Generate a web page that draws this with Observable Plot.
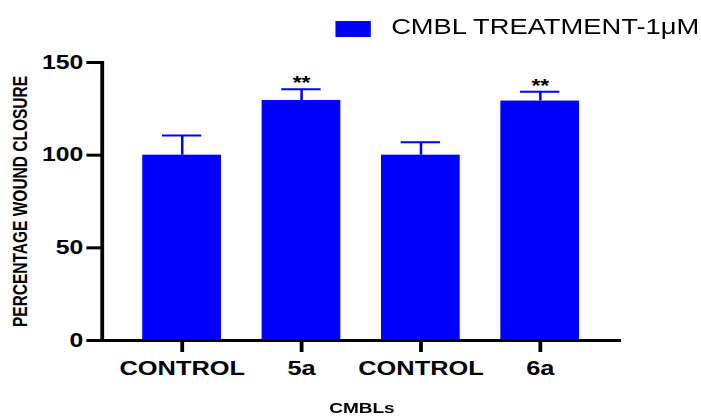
<!DOCTYPE html>
<html>
<head>
<meta charset="utf-8">
<script src="https://cdn.jsdelivr.net/npm/d3@7"></script>
<script src="https://cdn.jsdelivr.net/npm/@observablehq/plot@0.6"></script>
<style>
  html, body { margin: 0; padding: 0; background: #fff; }
  body { width: 701px; height: 418px; overflow: hidden; font-family: "Liberation Sans", Arial, sans-serif; }
  #wrap { width: 552px; transform-origin: 0 0; }
  #legend { position: relative; height: 45px; }
  #legend .sw { position: absolute; left: 264px; top: 21px; width: 28px; height: 16px; background: #0000ff; }
  #legend .lt { position: absolute; left: 308px; top: 17px; font-size: 21.5px; line-height: 21px; color: #000; white-space: nowrap; }
  #chart svg { display: block; overflow: visible; }
  #chart [aria-label="y-axis-line"], #chart [aria-label="y-axis-line"] * { clip-path: none !important; stroke-width: 3px; }
</style>
</head>
<body>
<div id="wrap">
  <div id="legend"><span class="sw"></span><span class="lt"></span></div>
  <div id="chart"></div>
</div>
<script>
// ---- data ----
const keys = ["c1", "5a", "c2", "6a"];
const labels = ["CONTROL", "5a", "CONTROL", "6a"];
const means = [100, 129.5, 100, 129.2];
const errHigh = [110.6, 135.5, 107.0, 134.2];
const stars = ["", "**", "", "**"];
const yTicks = [0, 50, 100, 150];
const seriesName = "CMBL TREATMENT-1μM";
const xTitle = "CMBLs";
const yTitle = "PERCENTAGE WOUND CLOSURE";

// horizontal stretch of the reference picture
const STRETCH = 701 / 552;
document.getElementById("wrap").style.transform = `scaleX(${STRETCH})`;
document.querySelector("#legend .lt").textContent = seriesName;

const data = keys.map((k, i) => ({key: k, label: labels[i], mean: means[i], hi: errHigh[i], star: stars[i]}));
const labelOf = k => labels[keys.indexOf(k)];
const blue = "#0000ff";

const chart = Plot.plot({
  width: 552,
  height: 373,
  marginTop: 17,
  marginBottom: 78,
  marginLeft: 80,
  marginRight: 63,
  style: {fontFamily: '"Liberation Sans", Arial, sans-serif', fontWeight: "bold", color: "#000", background: "#fff"},
  x: {domain: keys, paddingInner: 0.338, paddingOuter: 0.344, label: null},
  y: {domain: [0, 150], label: null},
  marks: [
    Plot.barY(data, {x: "key", y: "mean", fill: blue}),
    Plot.ruleX(data, {x: "key", y1: "mean", y2: "hi", stroke: blue, strokeWidth: 2}),
    Plot.tickY(data, {x: "key", y: "hi", stroke: blue, strokeWidth: 2, insetLeft: 15.5, insetRight: 15.5}),
    Plot.text(data, {x: "key", y: "hi", text: "star", dy: -6, lineAnchor: "middle", fontSize: 18, fill: "#000"}),
    Plot.axisX({tickSize: 12, tickPadding: 8, tickFormat: labelOf, fontSize: 20, strokeWidth: 3, label: null}),
    Plot.axisY({ticks: yTicks, tickSize: 12, tickPadding: 3, fontSize: 19.5, strokeWidth: 3, label: null}),
    Plot.frame({anchor: "left", stroke: "#000", strokeWidth: 3, clip: false, ariaLabel: "y-axis-line"}),
    Plot.ruleY([0], {stroke: "#000", strokeWidth: 3}),
    Plot.text([xTitle], {text: d => d, frameAnchor: "bottom", dy: 68, lineAnchor: "middle", fontSize: 15}),
    Plot.text([yTitle], {text: d => d, frameAnchor: "left", textAnchor: "middle", rotate: -90, dx: -64, lineAnchor: "middle", fontSize: 15.5})
  ]
});
document.getElementById("chart").appendChild(chart);
</script>
</body>
</html>
